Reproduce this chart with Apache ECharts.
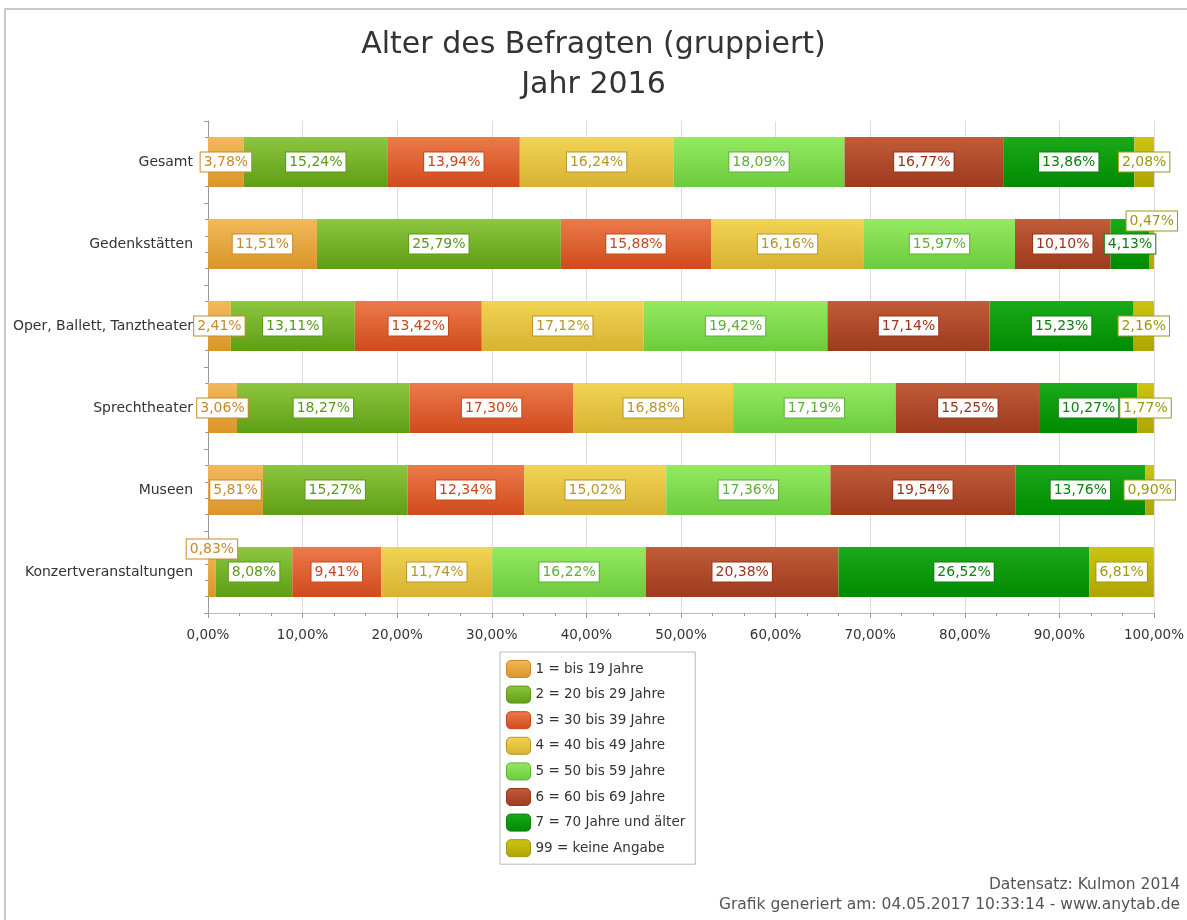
<!DOCTYPE html>
<html>
<head>
<meta charset="utf-8">
<script src="https://cdn.jsdelivr.net/npm/echarts@6/dist/echarts.min.js"></script>
<style>
html, body { margin: 0; padding: 0; background: #fff; }
#chart { width: 1187px; height: 920px; }
</style>
</head>
<body>
<div id="chart"></div>
<script>
var chart = echarts.init(document.getElementById("chart"));

var categories = ["Gesamt", "Gedenkstätten", "Oper, Ballett, Tanztheater", "Sprechtheater", "Museen", "Konzertveranstaltungen"];
var seriesNames = ["1 = bis 19 Jahre", "2 = 20 bis 29 Jahre", "3 = 30 bis 39 Jahre", "4 = 40 bis 49 Jahre",
    "5 = 50 bis 59 Jahre", "6 = 60 bis 69 Jahre", "7 = 70 Jahre und älter", "99 = keine Angabe"];
var bis19 = [3.78, 11.51, 2.41, 3.06, 5.81, 0.83];
var j20bis29 = [15.24, 25.79, 13.11, 18.27, 15.27, 8.08];
var j30bis39 = [13.94, 15.88, 13.42, 17.30, 12.34, 9.41];
var j40bis49 = [16.24, 16.16, 17.12, 16.88, 15.02, 11.74];
var j50bis59 = [18.09, 15.97, 19.42, 17.19, 17.36, 16.22];
var j60bis69 = [16.77, 10.10, 17.14, 15.25, 19.54, 20.38];
var ab70 = [13.86, 4.13, 15.23, 10.27, 13.76, 26.52];
var keineAngabe = [2.08, 0.47, 2.16, 1.77, 0.90, 6.81];
var xTicks = [0, 10, 20, 30, 40, 50, 60, 70, 80, 90, 100];

var allData = [bis19, j20bis29, j30bis39, j40bis49, j50bis59, j60bis69, ab70, keineAngabe];

// farben: oben, unten, beschriftung
var colors = [
    ['#F2B95A', '#D99528', '#C8892A'],
    ['#8DC63F', '#5E9E14', '#5A9A1A'],
    ['#EC7A4A', '#D04A1C', '#C8461C'],
    ['#F2D452', '#D8B232', '#B8962A'],
    ['#94EA62', '#6CCB3C', '#5EAE3A'],
    ['#C05C38', '#9E3A1E', '#9A3418'],
    ['#1AAA1A', '#008A00', '#0E7E0E'],
    ['#CCC412', '#AEA600', '#9E9810']
];
// labels that would collide with their neighbour get lifted: [series, category]
var lifted = [[7, 1], [0, 5]];

var font = 'DejaVu Sans';
function pct(v) {
    return v.toFixed(2).replace('.', ',') + '%';
}

var series = [];
var legendData = [];
for (let s = 0; s < allData.length; s++) {
    var items = [];
    for (let c = 0; c < allData[s].length; c++) {
        var item = { value: allData[s][c] };
        for (let k = 0; k < lifted.length; k++) {
            if (lifted[k][0] == s && lifted[k][1] == c) {
                item.label = { offset: [0, -23] };
            }
        }
        items.push(item);
    }
    series.push({
        type: 'bar',
        name: seriesNames[s],
        stack: 'alle',
        barWidth: 50,
        data: items,
        itemStyle: {
            color: new echarts.graphic.LinearGradient(0, 0, 0, 1, [
                { offset: 0, color: colors[s][0] },
                { offset: 1, color: colors[s][1] }
            ])
        },
        label: {
            show: true,
            position: 'inside',
            formatter: function (p) { return pct(p.value); },
            color: colors[s][2],
            backgroundColor: '#fff',
            borderColor: colors[s][2],
            borderWidth: 1,
            padding: [3, 3, 2, 3],
            fontSize: 14,
            fontFamily: font
        },
        emphasis: { disabled: true }
    });
    legendData.push({
        name: seriesNames[s],
        itemStyle: { borderColor: colors[s][2], borderWidth: 1 }
    });
}

option = {
    animation: false,
    backgroundColor: '#fff',
    title: {
        text: 'Alter des Befragten (gruppiert)\nJahr 2016',
        left: 'center',
        top: 20,
        textStyle: {
            color: '#333',
            fontSize: 30,
            fontWeight: 'normal',
            fontFamily: font,
            lineHeight: 40
        }
    },
    grid: {
        left: 208,
        right: 32,
        top: 121,
        bottom: 307
    },
    legend: {
        orient: 'vertical',
        left: 500,
        top: 652,
        itemWidth: 24,
        itemHeight: 17,
        itemGap: 7.6,
        borderColor: '#bbb',
        borderWidth: 1,
        padding: [8, 10, 7, 6],
        selectedMode: false,
        data: legendData,
        textStyle: {
            color: '#333',
            fontSize: 13.5,
            fontFamily: font
        }
    },
    xAxis: {
        type: 'value',
        min: xTicks[0],
        max: xTicks[xTicks.length - 1],
        interval: xTicks[1] - xTicks[0],
        axisLine: { show: true, lineStyle: { color: '#bbb' } },
        axisTick: { show: true, length: 5, lineStyle: { color: '#999' } },
        minorTick: { show: true, splitNumber: 3, length: 3, lineStyle: { color: '#999' } },
        splitLine: { show: true, lineStyle: { color: '#dcdcdc' } },
        axisLabel: {
            color: '#333',
            fontSize: 13.5,
            fontFamily: font,
            margin: 15,
            formatter: function (v) { return pct(v); }
        }
    },
    yAxis: [{
        type: 'category',
        inverse: true,
        data: categories,
        axisLine: { show: true, lineStyle: { color: '#999' } },
        axisTick: { show: false },
        axisLabel: {
            color: '#333',
            fontSize: 14,
            fontFamily: font,
            margin: 15
        }
    }, {
        type: 'value',
        position: 'left',
        min: 0,
        max: categories.length,
        interval: 1,
        axisLine: { show: false },
        axisTick: { show: true, length: 4, lineStyle: { color: '#999' } },
        minorTick: { show: true, splitNumber: 5, length: 3, lineStyle: { color: '#999' } },
        axisLabel: { show: false },
        splitLine: { show: false }
    }],
    graphic: [{
        type: 'rect',
        z: -10,
        shape: { x: 5, y: 9, width: 1300, height: 1000 },
        style: { fill: 'none', stroke: '#c8c8c8', lineWidth: 2 }
    }, {
        type: 'text',
        right: 7,
        top: 877,
        style: {
            text: 'Datensatz: Kulmon 2014',
            fill: '#555',
            fontSize: 15.5,
            fontFamily: font,
            align: 'right'
        }
    }, {
        type: 'text',
        right: 7,
        top: 897,
        style: {
            text: 'Grafik generiert am: 04.05.2017 10:33:14 - www.anytab.de',
            fill: '#555',
            fontSize: 15.5,
            fontFamily: font,
            align: 'right'
        }
    }],
    series: series
};

chart.setOption(option);
window.addEventListener('resize', function () {
    chart.resize();
});
</script>
</body>
</html>
